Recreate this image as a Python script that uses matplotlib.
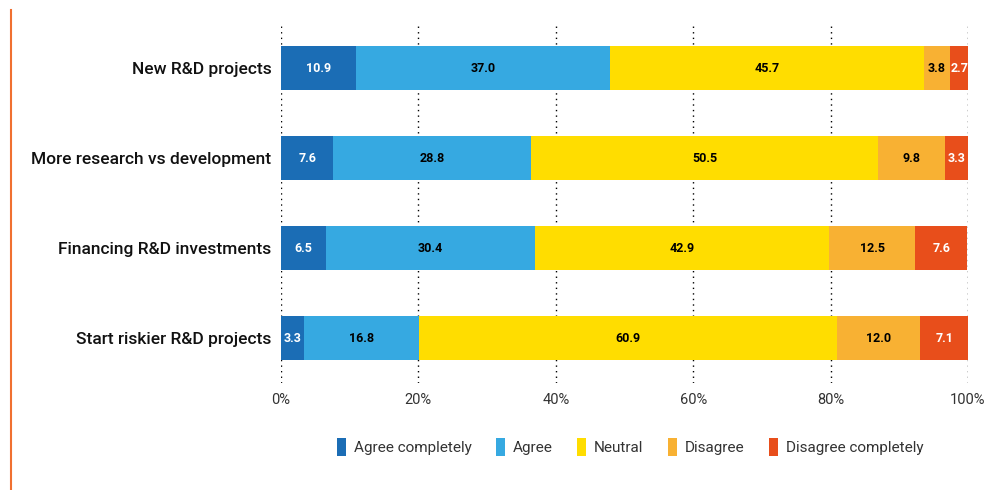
import matplotlib
matplotlib.use("Agg")
import matplotlib.pyplot as plt
from matplotlib.lines import Line2D
import numpy as np

categories = ["New R&D projects", "More research vs development",
              "Financing R&D investments", "Start riskier R&D projects"]
series_names = ["Agree completely", "Agree", "Neutral", "Disagree", "Disagree completely"]
agree_completely = [10.9, 7.6, 6.5, 3.3]
agree = [37.0, 28.8, 30.4, 16.8]
neutral = [45.7, 50.5, 42.9, 60.9]
disagree = [3.8, 9.8, 12.5, 12.0]
disagree_completely = [2.7, 3.3, 7.6, 7.1]
xticks = [0, 20, 40, 60, 80, 100]
xtick_labels = ["0%", "20%", "40%", "60%", "80%", "100%"]

colors = ["#1B6DB5", "#36A9E1", "#FFDD00", "#F8B133", "#E84E1B"]
text_colors = ["white", "black", "black", "black", "white"]

plt.rcParams['font.family'] = ['Roboto', 'DejaVu Sans']

fig = plt.figure(figsize=(9.97, 4.9), dpi=100)
ax = fig.add_axes([281/997, 1 - 383/490, (968-281)/997, 360/490])

data = [agree_completely, agree, neutral, disagree, disagree_completely]
y = np.arange(len(categories))
left = np.zeros(len(categories))
for vals, name, c, tc in zip(data, series_names, colors, text_colors):
    vals = np.array(vals)
    ax.barh(y, vals, left=left, height=0.49, color=c, label=name, zorder=2)
    for yi, l, v in zip(y, left, vals):
        ax.text(l + v / 2, yi, f"{v:.1f}", ha="center", va="center",
                color=tc, fontsize=9, fontweight="bold", zorder=3)
    left += vals

ax.set_xlim(0, 100)
ax.set_ylim(3.5, -0.5)
ax.set_yticks(y)
ax.set_yticklabels(categories, fontsize=12.5, color="#111111", fontweight="medium")
ax.set_xticks(xticks)
ax.set_xticklabels(xtick_labels, fontsize=10.5, color="#333333")
ax.tick_params(axis="x", length=0, pad=7)
ax.tick_params(axis="y", length=0, pad=7)
for s in ax.spines.values():
    s.set_visible(False)
ax.grid(axis="x", linestyle=(0, (1, 3)), color="black", linewidth=1, zorder=0)
ax.set_axisbelow(True)

leg = fig.legend(loc="center", bbox_to_anchor=(0.632, 0.088), ncol=5, frameon=False,
                 fontsize=11, handlelength=0.6, handleheight=1.5, handletextpad=0.5,
                 columnspacing=1.6)
for t in leg.get_texts():
    t.set_color("#333333")

fig.add_artist(Line2D([11/997, 11/997], [0, 1 - 10/490], transform=fig.transFigure,
                      color="#F07030", linewidth=1.5))

fig.savefig("out.png", dpi=100)
